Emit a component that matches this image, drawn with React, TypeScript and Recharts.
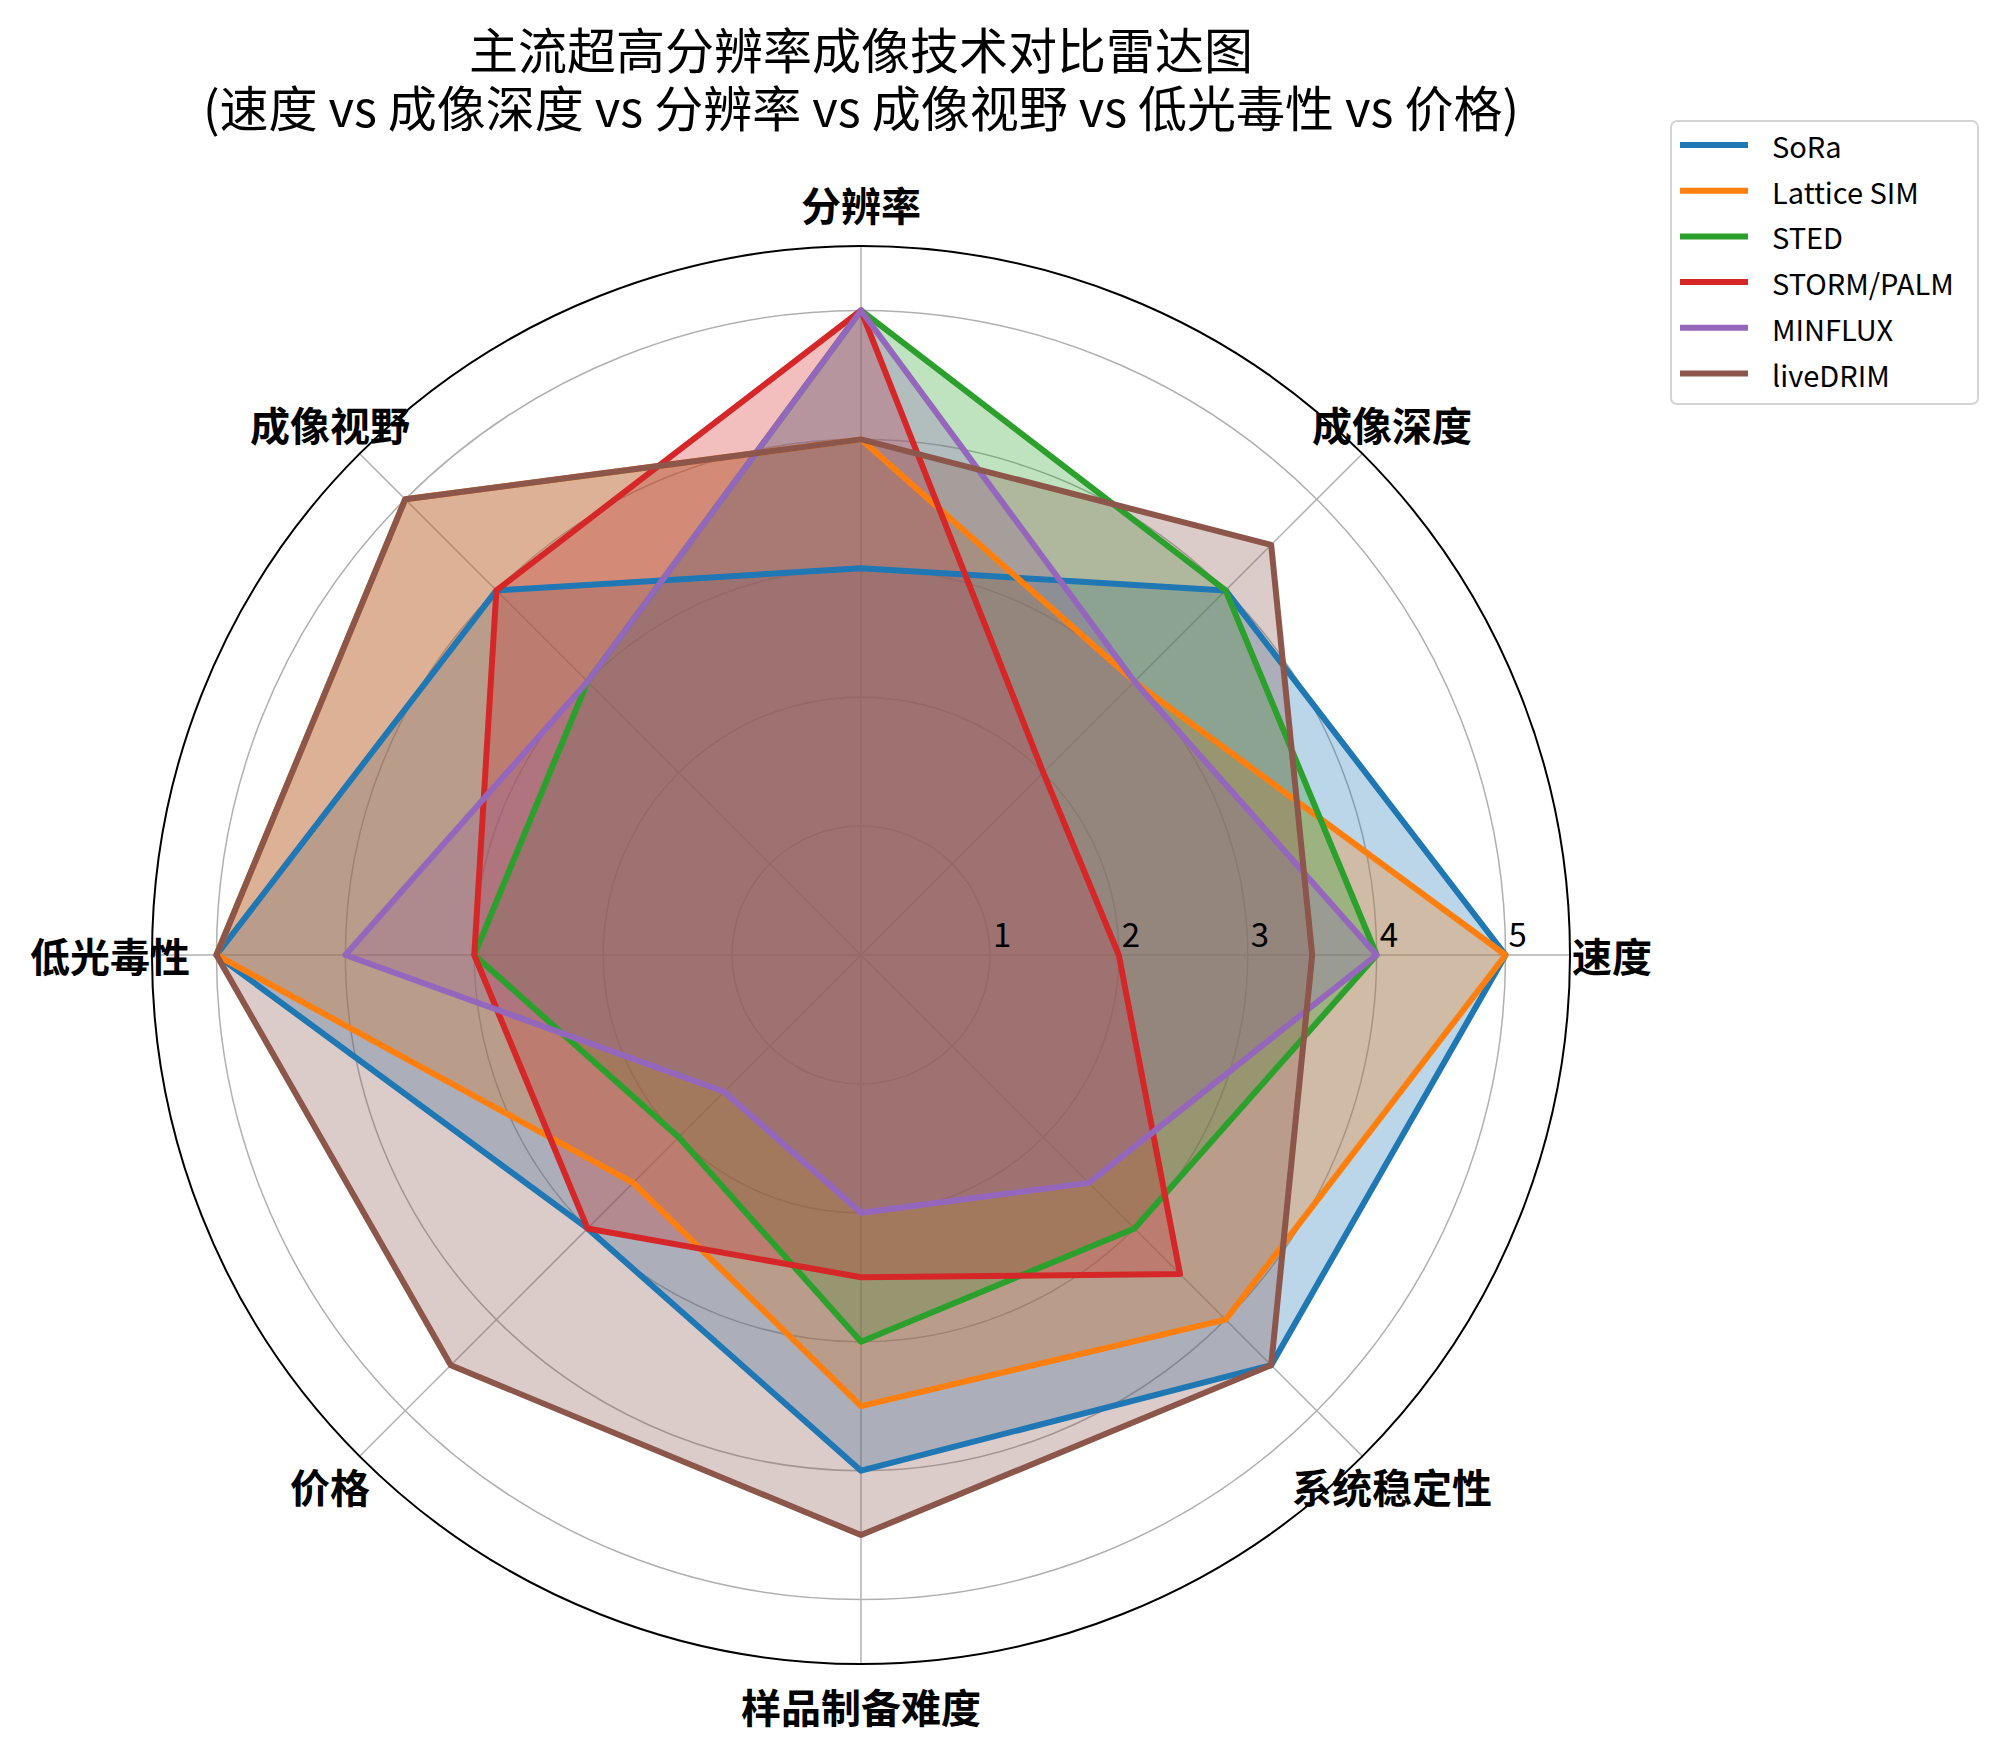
import React from 'react';
import { RadarChart, Radar, PolarGrid, PolarAngleAxis, PolarRadiusAxis, Legend, Customized } from 'recharts';

const dimensions = ['速度', '成像深度', '分辨率', '成像视野', '低光毒性', '价格', '样品制备难度', '系统稳定性'];
const techNames = ['SoRa', 'Lattice SIM', 'STED', 'STORM/PALM', 'MINFLUX', 'liveDRIM'];
const sora = [5, 4, 3, 4, 5, 3, 4, 4.5];
const latticeSim = [5, 3, 4, 5, 5, 2.5, 3.5, 4];
const sted = [4, 4, 5, 3, 3, 2, 3, 3];
const stormPalm = [2, 2, 5, 4, 3, 3, 2.5, 3.5];
const minflux = [4, 3, 5, 3, 4, 1.5, 2, 2.5];
const liveDrim = [3.5, 4.5, 4, 5, 5, 4.5, 4.5, 4.5];
const radiusTicks = [1, 2, 3, 4, 5];

const colors = ['#1f77b4', '#ff7f0e', '#2ca02c', '#d62728', '#9467bd', '#8c564b'];
const seriesValues = [sora, latticeSim, sted, stormPalm, minflux, liveDrim];

const data = dimensions.map((dim, i) => {
  const row: any = { dim };
  techNames.forEach((name, k) => { row[name] = seriesValues[k][i]; });
  return row;
});

const FONT = '"Noto Sans CJK SC", "Noto Sans", sans-serif';
const CX = 861;
const CY = 955;
const R = 709;
const LABEL_R = 751;

// labels sit on the same spoke as the data: index * 360 / n, counter-clockwise from the right
const AngleTick = (props: any) => {
  const idx = props.payload?.index ?? props.index ?? 0;
  const a = (idx * 2 * Math.PI) / dimensions.length;
  const x = CX + LABEL_R * Math.cos(a);
  const y = CY - LABEL_R * Math.sin(a);
  return (
    <text x={x} y={y} textAnchor="middle" dominantBaseline="central" fontFamily={FONT}
      fontWeight={700} fontSize={40} fill="#000">
      {props.payload.value}
    </text>
  );
};

const RadiusTick = (props: any) => (
  <text x={props.x + 3} y={props.y - 8} textAnchor="start" fontFamily={FONT} fontSize={33} fill="#000">
    {props.payload.value}
  </text>
);

const Frame = () => (
  <g>
    <circle cx={CX} cy={CY} r={R} fill="none" stroke="#000" strokeWidth={2} />
    <text x={CX} y={47} textAnchor="middle" dominantBaseline="central" fontFamily={FONT} fontSize={49} fill="#000">
      主流超高分辨率成像技术对比雷达图
    </text>
    <text x={CX} y={105} textAnchor="middle" dominantBaseline="central" fontFamily={FONT} fontSize={49} fill="#000">
      (速度 vs 成像深度 vs 分辨率 vs 成像视野 vs 低光毒性 vs 价格)
    </text>
  </g>
);

const LegendBox = () => (
  <svg width={312} height={288}>
    <rect x={1} y={1} width={307} height={283} rx={6} fill="#fff" stroke="#d4d4d4" strokeWidth={2} />
    {techNames.map((name, i) => (
      <g key={name}>
        <line x1={10} x2={78} y1={25 + i * 45.7} y2={25 + i * 45.7} stroke={colors[i]} strokeWidth={6} />
        <text x={102} y={25 + i * 45.7} dominantBaseline="central" fontFamily={FONT} fontSize={29} fill="#000">
          {name}
        </text>
      </g>
    ))}
  </svg>
);

export default function App() {
  return (
    <div style={{ position: 'absolute', left: 0, top: 0, width: 2000, height: 1751, background: '#fff' }}>
      <RadarChart width={2000} height={1751} data={data} cx={CX} cy={CY} outerRadius={R}
        startAngle={-45} endAngle={315} margin={{ top: 0, right: 0, bottom: 0, left: 0 }}>
        <PolarAngleAxis dataKey="dim" tick={<AngleTick />} tickLine={false} axisLine={false} />
        <PolarRadiusAxis angle={0} type="number" scale="pow" domain={[0, 5.5]} allowDataOverflow
          ticks={radiusTicks} tick={<RadiusTick />} axisLine={false} tickLine={false} />
        {/* fills, then grid, then outlines on top (matplotlib's layering) */}
        {techNames.map((name, i) => (
          <Radar key={name + '-fill'} name={name} dataKey={name} stroke="none"
            fill={colors[i]} fillOpacity={0.3} dot={false} isAnimationActive={false} />
        ))}
        <PolarGrid gridType="circle" stroke="#b0b0b0" strokeWidth={1.5} />
        {techNames.map((name, i) => (
          <Radar key={name + '-line'} name={name} dataKey={name} stroke={colors[i]} strokeWidth={6}
            strokeLinejoin="round" fill="none" fillOpacity={0} dot={false} isAnimationActive={false} />
        ))}
        <Customized component={<Frame />} />
        <Legend content={<LegendBox />} wrapperStyle={{ position: 'absolute', left: 1670, top: 120, width: 312 }} />
      </RadarChart>
    </div>
  );
}
